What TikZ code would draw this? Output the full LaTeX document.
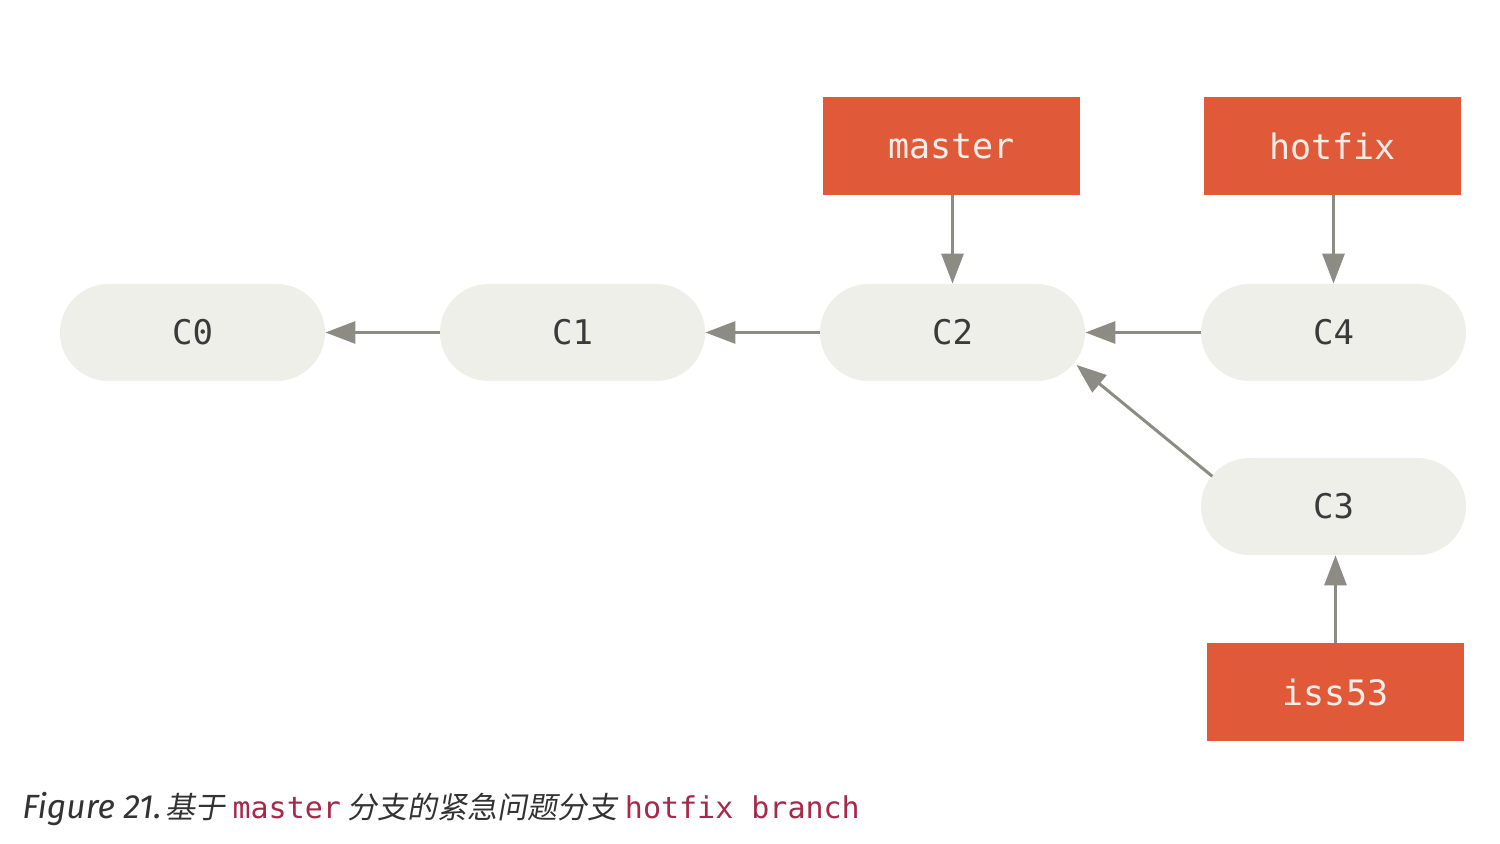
\documentclass[tikz,border=0pt]{standalone}
\usepackage{fontspec}
\setmainfont{Fira Sans}
\setmonofont{DejaVu Sans Mono}
\newfontfamily\cjk[FakeSlant=0.18]{Noto Sans CJK SC}
\usetikzlibrary{arrows.meta,calc}
\definecolor{branch}{HTML}{E05A3A}
\definecolor{commitbg}{HTML}{EFEFEA}
\definecolor{arrowgray}{HTML}{8C8B84}
\definecolor{labeltext}{HTML}{F5EEE8}
\definecolor{committext}{HTML}{3A3A3A}
\definecolor{codecol}{HTML}{A8284A}
\definecolor{captext}{HTML}{333333}
\begin{document}
\begin{tikzpicture}[x=0.5pt,y=-0.5pt,
  commit/.style={rectangle, rounded corners=24.25pt, fill=commitbg,
    minimum width=132.5pt, minimum height=48.5pt, inner sep=0pt,
    font=\ttfamily\fontsize{17pt}{20pt}\selectfont, text=committext},
  branchbox/.style={rectangle, fill=branch, minimum width=128.5pt,
    minimum height=49pt, inner sep=0pt,
    font=\ttfamily\fontsize{17.5pt}{20pt}\selectfont, text=labeltext},
  link/.style={draw=arrowgray, line width=1.5pt,
    -{Triangle[length=15pt,width=11pt]}}]
\useasboundingbox (0,0) rectangle (1500,844);
\fill[white] (0,0) rectangle (1500,844);

\node[commit] (C0) at (192.5,332.5) {C0};
\node[commit] (C1) at (572.5,332.5) {C1};
\node[commit] (C2) at (952.5,332.5) {C2};
\node[commit] (C4) at (1333.5,332.5) {C4};
\node[commit] (C3) at (1333.5,506.5) {C3};

\node[branchbox] (master) at (951.5,146) {master};
\node[branchbox] (hotfix) at (1332.5,146) {hotfix};
\node[branchbox] (iss53) at (1335.5,692) {iss53};

\draw[link] (C1.west) -- (C0.east);
\draw[link] (C2.west) -- (C1.east);
\draw[link] (C4.west) -- (C2.east);
\draw[link] (master.south -| C2.north) -- (C2.north);
\draw[link] (hotfix.south -| C4.north) -- (C4.north);
\draw[link] (iss53.north) -- (iss53.north |- C3.south);
\draw[link, shorten <=23.8pt, shorten >=25.5pt]
  ($(C3.west)+(48.5,0)$) -- ($(C2.east)+(-48.5,0)$);

\node[anchor=base west, inner sep=0pt, text=captext,
  font=\fontsize{16.8pt}{21pt}\selectfont] (caption) at (22,818)
  {\itshape Figure 21.\hspace{2pt}{\cjk\fontsize{15pt}{18pt}\selectfont 基于}\hspace{3.5pt}{\ttfamily\upshape\fontsize{15pt}{18pt}\selectfont\color{codecol}master}\hspace{3.5pt}{\cjk\fontsize{15pt}{18pt}\selectfont 分支的紧急问题分支}\hspace{3.5pt}{\ttfamily\upshape\fontsize{15pt}{18pt}\selectfont\color{codecol}hotfix branch}};
\end{tikzpicture}
\end{document}
